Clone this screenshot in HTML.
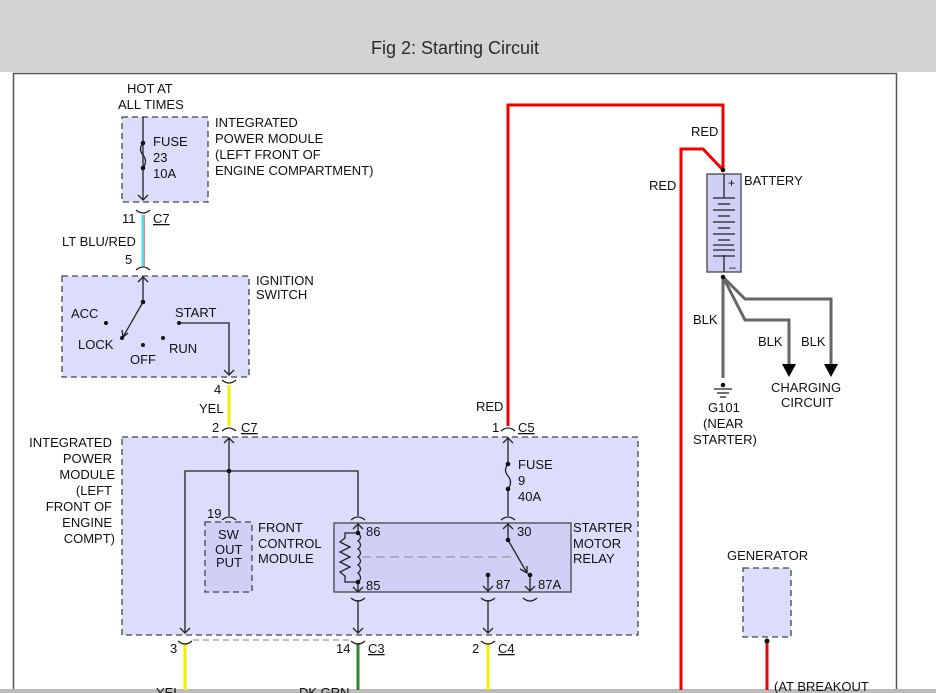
<!DOCTYPE html>
<html><head><style>
html,body{margin:0;padding:0;background:#fff;}
svg{display:block;}
text{font-family:"Liberation Sans",Arial,sans-serif;font-size:13px;fill:#111;}
</style></head><body>
<svg width="936" height="693" viewBox="0 0 936 693" xmlns="http://www.w3.org/2000/svg">
<rect x="0" y="0" width="936" height="72" fill="#d3d3d3"/>
<text x="455" y="54" text-anchor="middle" style="font-size:18px;fill:#2a2a2a">Fig 2: Starting Circuit</text>
<rect x="13.5" y="73.5" width="883" height="630" fill="#fff" stroke="#555" stroke-width="1.5"/>
<rect x="0" y="689" width="936" height="4" fill="#bbb"/>

<g stroke="#444" stroke-width="1.3" stroke-dasharray="6,4" fill="#dcdcfc">
<rect x="122" y="117" width="86" height="85"/>
<rect x="62" y="276" width="187" height="101"/>
<rect x="122" y="437" width="516" height="198"/>
<rect x="205" y="522" width="47" height="70" fill="#d0d0f6"/>
<rect x="743" y="568" width="48" height="69"/>
</g>
<rect x="334" y="523" width="237" height="69" fill="#d0d0f6" stroke="#444" stroke-width="1.3"/>
<rect x="707" y="174" width="34" height="98" fill="#d0d0f6" stroke="#444" stroke-width="1.3"/>

<g fill="none" stroke-width="3">
<line x1="143" y1="215" x2="143" y2="266" stroke="#40e0f0"/>
<line x1="144.5" y1="215" x2="144.5" y2="266" stroke="#f08080" stroke-width="1"/>
<line x1="229" y1="385" x2="229" y2="426" stroke="#f0f000"/>
<line x1="185" y1="643" x2="185" y2="690" stroke="#f0f000"/>
<line x1="358" y1="643" x2="358" y2="690" stroke="#2a8a2a"/>
<line x1="488" y1="643" x2="488" y2="690" stroke="#f0f000"/>
<polyline points="508,426 508,105 723,105 723,170" stroke="#f00000"/>
<polyline points="681,690 681,149 703,149 723,170" stroke="#f00000"/>
<line x1="767" y1="641" x2="767" y2="690" stroke="#f00000"/>
<polyline points="723,277 723,378" stroke="#666"/>
<polyline points="723,277 745,320 789,320 789,365" stroke="#666"/>
<polyline points="723,277 745,299 831,299 831,365" stroke="#666"/>
</g>
<polygon points="782,364 796,364 789,377" fill="#000"/>
<polygon points="824,364 838,364 831,377" fill="#000"/>

<g fill="none" stroke="#222" stroke-width="1.3">
<line x1="143" y1="117" x2="143" y2="200"/>
<polyline points="138,195 143,200 148,195"/>
<path d="M143,143 q-5,6 0,12 q5,6 0,13"/>
<path d="M136,212 q7,-6 14,0" transform="rotate(180 143 211)"/>
<path d="M136,270 q7,-6 14,0"/>
<path d="M222,384 q7,-6 14,0" transform="rotate(180 229 382)"/>
<path d="M222,431 q7,-6 14,0"/>
<path d="M501,431 q7,-6 14,0"/>
<path d="M222,520 q7,-6 14,0"/>
<path d="M351,520 q7,-6 14,0"/>
<path d="M501,520 q7,-6 14,0"/>
<path d="M351,598 q7,6 14,0"/>
<path d="M481,598 q7,6 14,0"/>
<path d="M523,598 q7,6 14,0"/>
<path d="M178,641 q7,6 14,0"/>
<path d="M351,641 q7,6 14,0"/>
<path d="M481,641 q7,6 14,0"/>
<line x1="143" y1="276" x2="143" y2="302"/>
<polyline points="138,282 143,277 148,282"/>
<line x1="143" y1="302" x2="123" y2="337"/>
<polyline points="122,330 123,337 128,333"/>
<polyline points="179,323 229,323 229,375"/>
<polyline points="224,370 229,375 234,370"/>
<line x1="229" y1="437" x2="229" y2="516"/>
<polyline points="224,443 229,438 234,443"/>
<polyline points="185,633 185,471 358,471 358,516"/>
<polyline points="180,628 185,633 190,628"/>
<line x1="508" y1="437" x2="508" y2="464"/>
<polyline points="503,443 508,438 513,443"/>
<path d="M508,464 q-5,6 0,12 q5,6 0,13"/>
<line x1="508" y1="489" x2="508" y2="516"/>
<line x1="358" y1="523" x2="358" y2="533"/>
<polyline points="353,529 358,524 363,529"/>
<path d="M358,533 q5,4 0,8 q5,4 0,8 q5,4 0,8 q5,4 0,8 q5,4 0,8 q5,5 0,9"/>
<polyline points="358,533 345,533 345,538 340,542 350,547 340,552 350,557 340,562 350,567 340,572 345,576 345,582 358,582"/>
<line x1="358" y1="582" x2="358" y2="592"/>
<polyline points="353,587 358,592 363,587"/>
<line x1="358" y1="600" x2="358" y2="633"/>
<polyline points="353,628 358,633 363,628"/>
<line x1="508" y1="523" x2="508" y2="540"/>
<polyline points="503,529 508,524 513,529"/>
<line x1="508" y1="540" x2="527" y2="573"/>
<polyline points="520,569 527,573 527,566"/>
<line x1="530" y1="575" x2="530" y2="591"/>
<polyline points="525,586 530,591 535,586"/>
<line x1="488" y1="575" x2="488" y2="591"/>
<polyline points="483,586 488,591 493,586"/>
<line x1="488" y1="600" x2="488" y2="633"/>
<polyline points="483,628 488,633 493,628"/>
<line x1="724" y1="174" x2="724" y2="198"/>
<line x1="724" y1="255" x2="724" y2="272"/>
<line x1="713" y1="256" x2="735" y2="256"/>
<line x1="713" y1="198" x2="735" y2="198"/>
<line x1="718" y1="204" x2="730" y2="204"/>
<line x1="713" y1="210" x2="735" y2="210"/>
<line x1="718" y1="216" x2="730" y2="216"/>
<line x1="713" y1="222" x2="735" y2="222"/>
<line x1="718" y1="228" x2="730" y2="228"/>
<line x1="713" y1="234" x2="735" y2="234"/>
<line x1="718" y1="240" x2="730" y2="240"/>
<line x1="713" y1="245" x2="734" y2="245"/>
<line x1="713" y1="250" x2="735" y2="250"/>
<line x1="714" y1="389" x2="732" y2="389"/>
<line x1="717" y1="393" x2="729" y2="393"/>
<line x1="720" y1="397" x2="726" y2="397"/>
</g>
<line x1="193" y1="640" x2="352" y2="640" stroke="#999" stroke-width="1.2" stroke-dasharray="6,4"/>
<line x1="362" y1="557" x2="515" y2="557" stroke="#999" stroke-width="1.2" stroke-dasharray="9,5"/>
<g fill="#111">
<circle cx="143" cy="143" r="2.3"/><circle cx="143" cy="168" r="2.3"/>
<circle cx="143" cy="302" r="2.3"/><circle cx="106" cy="323" r="2"/><circle cx="122" cy="338" r="2"/>
<circle cx="143" cy="345" r="2"/><circle cx="163" cy="338" r="2"/><circle cx="179" cy="323" r="2"/>
<circle cx="229" cy="471" r="2.3"/><circle cx="508" cy="464" r="2.3"/><circle cx="508" cy="489" r="2.3"/>
<circle cx="358" cy="533" r="2.3"/><circle cx="358" cy="582" r="2.3"/><circle cx="508" cy="540" r="2.3"/>
<circle cx="530" cy="575" r="2.3"/><circle cx="488" cy="575" r="2.3"/>
<circle cx="723" cy="170" r="2.3"/><circle cx="723" cy="277" r="2.3"/><circle cx="723" cy="385" r="2.3"/>
<circle cx="767" cy="641" r="2.5"/>
</g>
<g>
<text x="127" y="93">HOT AT</text>
<text x="118" y="109">ALL TIMES</text>
<text x="153" y="146">FUSE</text><text x="153" y="162">23</text><text x="153" y="178">10A</text>
<text x="215" y="127">INTEGRATED</text><text x="215" y="143">POWER MODULE</text>
<text x="215" y="159">(LEFT FRONT OF</text><text x="215" y="175">ENGINE COMPARTMENT)</text>
<text x="122" y="223">11</text><text x="153" y="223" text-decoration="underline">C7</text>
<text x="62" y="246">LT BLU/RED</text>
<text x="125" y="264">5</text>
<text x="256" y="285">IGNITION</text><text x="256" y="299">SWITCH</text>
<text x="71" y="318">ACC</text><text x="175" y="317">START</text>
<text x="78" y="349">LOCK</text><text x="169" y="353">RUN</text><text x="130" y="364">OFF</text>
<text x="214" y="394">4</text><text x="199" y="413">YEL</text>
<text x="212" y="432">2</text><text x="241" y="432" text-decoration="underline">C7</text>
<text x="476" y="411">RED</text>
<text x="492" y="432">1</text><text x="518" y="432" text-decoration="underline">C5</text>
<g text-anchor="end">
<text x="112" y="447">INTEGRATED</text><text x="112" y="463">POWER</text><text x="115" y="479">MODULE</text>
<text x="112" y="495">(LEFT</text><text x="112" y="511">FRONT OF</text><text x="112" y="527">ENGINE</text><text x="115" y="543">COMPT)</text>
</g>
<text x="518" y="469">FUSE</text><text x="518" y="485">9</text><text x="518" y="501">40A</text>
<text x="207" y="518">19</text>
<text x="218" y="539">SW</text><text x="215" y="554">OUT</text><text x="216" y="567">PUT</text>
<text x="258" y="532">FRONT</text><text x="258" y="548">CONTROL</text><text x="258" y="563">MODULE</text>
<text x="366" y="536">86</text><text x="366" y="590">85</text>
<text x="517" y="536">30</text><text x="496" y="589">87</text><text x="538" y="589">87A</text>
<text x="573" y="532">STARTER</text><text x="573" y="548">MOTOR</text><text x="573" y="563">RELAY</text>
<text x="170" y="653">3</text><text x="336" y="653">14</text><text x="368" y="653" text-decoration="underline">C3</text>
<text x="472" y="653">2</text><text x="498" y="653" text-decoration="underline">C4</text>
<text x="691" y="136">RED</text><text x="649" y="190">RED</text>
<text x="744" y="185">BATTERY</text>
<text x="728" y="187" style="font-size:12px">+</text>
<text x="729" y="271" style="font-size:12px">–</text>
<text x="693" y="324">BLK</text><text x="758" y="346">BLK</text><text x="801" y="346">BLK</text>
<text x="771" y="392">CHARGING</text><text x="781" y="407">CIRCUIT</text>
<text x="708" y="412">G101</text><text x="703" y="428">(NEAR</text><text x="693" y="444">STARTER)</text>
<text x="727" y="560">GENERATOR</text>
<text x="774" y="691">(AT BREAKOUT</text>
<text x="156" y="697">YEL</text><text x="299" y="697">DK GRN</text>
</g>
</svg>
</body></html>
